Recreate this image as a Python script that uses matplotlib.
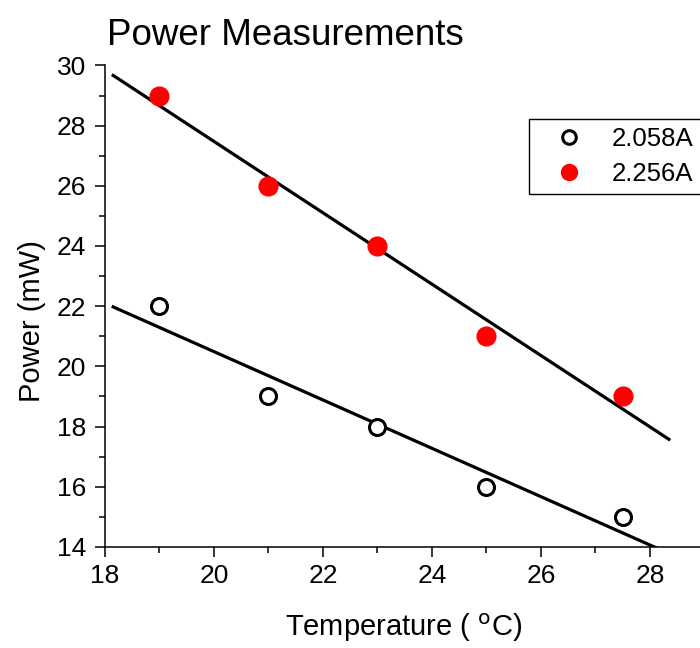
import numpy as np
import matplotlib
matplotlib.use("Agg")
import matplotlib.pyplot as plt

plt.rcParams['font.family'] = ['Liberation Sans', 'DejaVu Sans']

# data
temperature = [19, 21, 23, 25, 27.5]
power_2058 = [22, 19, 18, 16, 15]
power_2256 = [29, 26, 24, 21, 19]
labels = ['2.058A', '2.256A']
fit_range = [18.15, 28.35]

fig = plt.figure(figsize=(7, 6.48), dpi=100)
ax = fig.add_axes([0.15, 0.156, 0.934, 0.743])

# linear fits
xf = np.array(fit_range)
for y in (power_2058, power_2256):
    m, b = np.polyfit(temperature, y, 1)
    ax.plot(xf, m * xf + b, color='black', lw=2.3, zorder=2)

ax.plot(temperature, power_2058, 'o', ms=11.5, mfc='white', mec='black',
        mew=2.2, label=labels[0], zorder=3)
ax.plot(temperature, power_2256, 'o', ms=13.5, color='red',
        label=labels[1], zorder=3)

ax.set_xlim(18, 30)
ax.set_ylim(14, 30)
ax.set_xticks(np.arange(18, 29, 2))
ax.set_xticks(np.arange(19, 30, 2), minor=True)
ax.set_yticks(np.arange(14, 31, 2))
ax.set_yticks(np.arange(15, 30, 2), minor=True)

for s in ['top', 'right']:
    ax.spines[s].set_visible(False)
for s in ['left', 'bottom']:
    ax.spines[s].set_linewidth(1.1)
ax.tick_params(which='major', length=7.5, width=1.1, labelsize=19)
ax.tick_params(axis='y', which='major', pad=6)
ax.tick_params(axis='x', which='major', pad=4.5)
ax.tick_params(which='minor', length=4, width=1.1)

ax.set_xlabel('Temperature ( $^{\\rm o}$C)', fontsize=21)
ax.xaxis.set_label_coords((404 - 105) / 654, -0.135)
ax.set_ylabel('Power (mW)', fontsize=21)
ax.yaxis.set_label_coords(-0.09, 0.47)

fig.text(107 / 700, 1 - 45 / 648, 'Power Measurements', fontsize=26.5)

leg = ax.legend(loc='upper left', bbox_to_anchor=(529 / 700, 1 - 119 / 648),
                bbox_transform=fig.transFigure, fontsize=18.5, frameon=True,
                fancybox=False, edgecolor='black', framealpha=1,
                markerscale=0.85, handlelength=2.5, handletextpad=0.4,
                borderpad=0.32, labelspacing=0.42, borderaxespad=0)
leg.get_frame().set_linewidth(1.0)

fig.savefig('out.png', dpi=100)
